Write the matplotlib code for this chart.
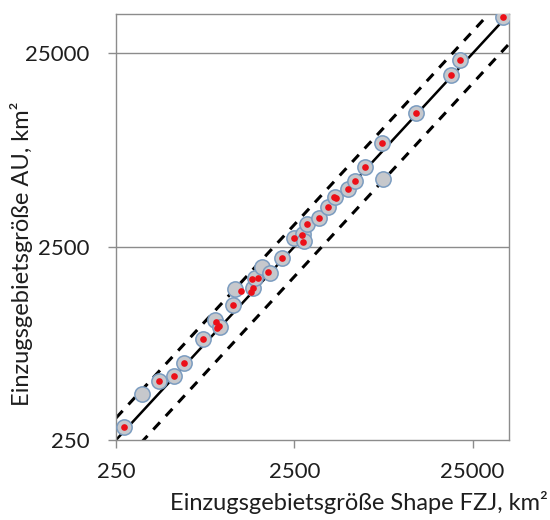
import matplotlib
matplotlib.use("Agg")
import matplotlib.pyplot as plt
import numpy as np

# Catchment areas (km²): shape-file area (FZJ) vs. reported area (AU)
fzj_all = [277, 351, 436, 531, 604, 769, 898, 958, 1137, 1163, 1467, 1505,
           1637, 1819, 2124, 2490, 2780, 2833, 2935, 3452, 3888, 4203, 5022,
           5455, 6231, 7830, 7729, 12038, 18915, 21251, 37170]
au_all = [293, 431, 505, 538, 624, 833, 1044, 961, 1248, 1510, 1523, 1716,
          1963, 1821, 2178, 2763, 2908, 2675, 3265, 3519, 3997, 4535, 4954,
          5470, 6437, 5582, 8564, 12246, 19330, 23115, 38725]

# Subset of catchments used further (highlighted in red)
fzj_sel = [277, 436, 531, 604, 769, 906, 946, 918, 1137, 1251, 1448, 1565,
           1435, 1476, 1780, 2124, 2500, 2772, 2808, 2935, 3452, 3849, 4175,
           4283, 5022, 5455, 6231, 7729, 12038, 18915, 21251, 37170]
au_sel = [293, 505, 538, 624, 833, 1023, 976, 949, 1248, 1484, 1702, 1716,
          1463, 1528, 1856, 2178, 2763, 2874, 2653, 3265, 3519, 3997, 4535,
          4491, 4954, 5470, 6437, 8564, 12246, 19330, 23115, 38725]

tick_values = [250, 2500, 25000]
tick_labels = ["250", "2500", "25000"]
axis_min, axis_max = 250, 40000
band_upper, band_lower = 1.3, 0.7   # ±30 % tolerance band

plt.rcParams['font.family'] = ['Lato', 'DejaVu Sans']

fig = plt.figure(figsize=(5.5, 5.2), dpi=100)
ax = fig.add_axes([116 / 550, 1 - 440 / 520, (509 - 116) / 550, (440 - 14) / 520])

ax.set_xscale('log')
ax.set_yscale('log')
ax.set_xlim(axis_min, axis_max)
ax.set_ylim(axis_min, axis_max)

frame_col = '#8c8c8c'
text_col = '#1e1e1e'

# 1:1 line and tolerance band
xs = np.array([axis_min, axis_max], dtype=float)
ax.plot(xs, xs, color='black', lw=1.8, zorder=2, solid_capstyle='butt')
ax.plot(xs, band_upper * xs, color='black', lw=2.2, ls=(0, (3.2, 2.8)), zorder=2)
ax.plot(xs, band_lower * xs, color='black', lw=2.2, ls=(0, (3.2, 2.8)), zorder=2)

# All catchments (grey) and selected ones (red)
ax.plot(fzj_all, au_all, ls='none', marker='o', ms=11,
        mfc='#c6c8cc', mec='#7b9cc0', mew=1.1, zorder=3)
ax.plot(fzj_sel, au_sel, ls='none', marker='o', ms=4.8,
        mfc='#ec1018', mec='none', zorder=4)

# Horizontal grid lines
for v in tick_values[1:]:
    ax.axhline(v, color=frame_col, lw=1.0, zorder=1)

ax.set_xticks(tick_values)
ax.set_xticklabels(tick_labels)
ax.set_yticks(tick_values)
ax.set_yticklabels(tick_labels)
ax.minorticks_off()
ax.tick_params(axis='both', which='major', direction='out', length=6,
               width=1.0, color=frame_col, labelsize=16, labelcolor=text_col)
ax.tick_params(axis='x', pad=10)
ax.tick_params(axis='y', pad=13)

for s in ax.spines.values():
    s.set_color(frame_col)
    s.set_linewidth(1.0)

fig.text(548 / 550, 1 - 502 / 520, "Einzugsgebietsgröße Shape FZJ, km²",
         ha='right', va='center', fontsize=17, color=text_col)
fig.text(22 / 550, 1 - 254 / 520, "Einzugsgebietsgröße AU, km²",
         ha='center', va='center', rotation=90, fontsize=17, color=text_col)

fig.savefig("out.png", dpi=100)
